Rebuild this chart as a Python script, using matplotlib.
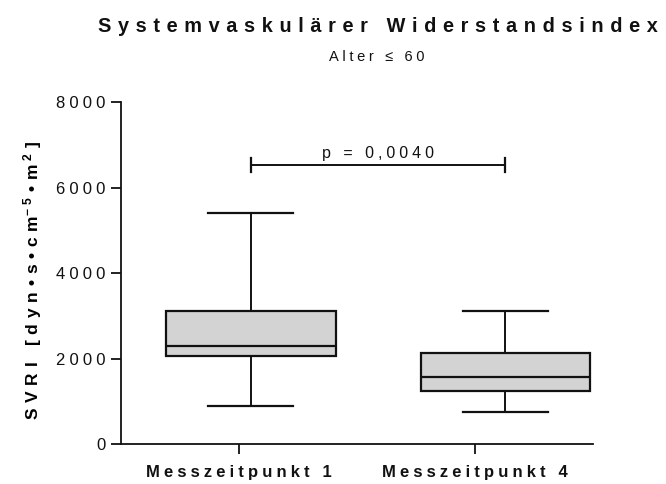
import matplotlib
matplotlib.use('Agg')
import matplotlib.pyplot as plt

# data
groups = ['Messzeitpunkt 1', 'Messzeitpunkt 4']
whislo = [900, 750]
q1 = [2060, 1240]
med = [2300, 1570]
q3 = [3110, 2130]
whishi = [5400, 3110]
p_label = 'p = 0,0040'
p_y = 6530
y_ticks = [0, 2000, 4000, 6000, 8000]

FONT = ['Liberation Sans', 'DejaVu Sans']
plt.rcParams['font.family'] = FONT
plt.rcParams['mathtext.fontset'] = 'custom'
plt.rcParams['mathtext.rm'] = 'Liberation Sans:bold'
plt.rcParams['mathtext.bf'] = 'Liberation Sans:bold'
plt.rcParams['mathtext.default'] = 'rm'
GAP = '\u2004'    # three-per-em space
NARROW = '\u2005'  # four-per-em space


def spaced(s, gap=GAP):
    return gap.join(s)


tick_pos = [1, 2]
box_pos = [1.05, 2.13]

fig = plt.figure(figsize=(6.66, 4.84), dpi=100)
ax = fig.add_axes([0.1817, 0.0826, 0.7083, 0.7066])

stats = []
for i in range(len(groups)):
    stats.append({'whislo': whislo[i], 'q1': q1[i], 'med': med[i],
                  'q3': q3[i], 'whishi': whishi[i], 'fliers': []})

ax.bxp(stats, positions=box_pos, widths=0.72, capwidths=0.36,
       patch_artist=True, showfliers=False,
       boxprops=dict(facecolor='#d3d3d3', edgecolor='#111111', linewidth=1.6),
       medianprops=dict(color='#111111', linewidth=1.6),
       whiskerprops=dict(color='#111111', linewidth=1.4),
       capprops=dict(color='#111111', linewidth=1.6))

# significance bracket
ax.plot([box_pos[0], box_pos[1]], [p_y, p_y], color='#111111', lw=1.4)
for xb in box_pos:
    ax.plot([xb, xb], [p_y - 170, p_y + 170], color='#111111', lw=1.6)
ax.text(sum(box_pos) / 2, p_y + 90, spaced(p_label, NARROW), ha='center', va='bottom',
        fontsize=11.5, color='#111111')

ax.set_xlim(0.5, 2.5)
ax.set_ylim(0, 8000)
ax.set_xticks(tick_pos)
ax.set_xticklabels([spaced(g, NARROW) for g in groups], fontsize=12, fontweight='bold')
ax.set_yticks(y_ticks)
ax.set_yticklabels([spaced(str(v), NARROW) for v in y_ticks], fontsize=12)
ax.tick_params(axis='both', length=7, width=1.3, color='#111111', labelcolor='#111111')
ax.tick_params(axis='x', pad=8)
ax.tick_params(axis='y', pad=4)
for s in ['top', 'right']:
    ax.spines[s].set_visible(False)
for s in ['left', 'bottom']:
    ax.spines[s].set_linewidth(1.3)
    ax.spines[s].set_color('#111111')

ylab = (spaced('SVRI [dyn\u2022s\u2022cm') + r'$^{-\ 5}$' + GAP
        + spaced('\u2022m') + r'$^{\ 2}$' + GAP + ']')
ax.set_ylabel(ylab, fontsize=12.5, fontweight='bold')
ax.yaxis.set_label_coords(-0.163, 0.48)

fig.text(0.568, 0.946, spaced('Systemvaskulärer Widerstandsindex'), ha='center',
         va='center', fontsize=14.3, fontweight='bold', color='#111111')
fig.text(0.566, 0.882, spaced('Alter \u2264 60', NARROW), ha='center', va='center',
         fontsize=10.5, color='#111111')

fig.savefig('out.png', dpi=100, facecolor='white')
